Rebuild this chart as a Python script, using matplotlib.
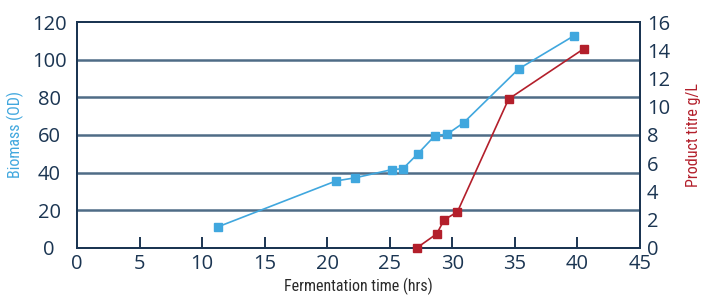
import matplotlib
matplotlib.use("Agg")
import matplotlib.pyplot as plt
from matplotlib import font_manager

# biomass (OD) readings, left axis
bio_time = [11.25, 20.7, 22.25, 25.15, 26.05, 27.25, 28.6, 29.6, 30.9, 35.3, 39.75]
bio_od = [11.2, 35.6, 37.3, 41.6, 42.1, 50.1, 59.6, 60.5, 66.5, 95.1, 112.8]

# product titre (g/L), right axis
prod_time = [27.15, 28.75, 29.35, 30.4, 34.5, 40.5]
prod_titre = [0.0, 1.0, 2.0, 2.55, 10.55, 14.1]

x_ticks = [0, 5, 10, 15, 20, 25, 30, 35, 40, 45]
left_ticks = [0, 20, 40, 60, 80, 100, 120]
right_ticks = [0, 2, 4, 6, 8, 10, 12, 14, 16]

NAVY = "#1b3552"
GRID = "#4f6c86"
BLUE = "#40a7de"
RED = "#b31f2b"

installed = {f.name for f in font_manager.fontManager.ttflist}
tick_font = ["Open Sans", "DejaVu Sans"]
label_font = [f for f in ["Roboto Condensed", "Open Sans Condensed", "DejaVu Sans Condensed",
                          "Liberation Sans Narrow", "Noto Sans Condensed"] if f in installed]
condensed = bool(label_font)
if not condensed:
    label_font = ["Roboto"]
lab_size = 11.5 if condensed else 9.5

fig = plt.figure(figsize=(7.02, 2.99), dpi=100)
ax = fig.add_axes([0.1097, 0.1706, 0.8020, 0.7558])
ax2 = ax.twinx()

ax.set_xlim(0, 45)
ax.set_ylim(0, 120)
ax2.set_ylim(0, 16)

for y in left_ticks[1:-1]:
    ax.axhline(y, color=GRID, lw=1.8, zorder=1)

ax.plot(bio_time, bio_od, color=BLUE, lw=1.2, marker="s", ms=5.3, zorder=3, clip_on=False)
ax2.plot(prod_time, prod_titre, color=RED, lw=1.2, marker="s", ms=5.3, zorder=3, clip_on=False)

ax.set_xticks(x_ticks)
ax.set_yticks(left_ticks)
ax2.set_yticks(right_ticks)

for a in (ax, ax2):
    for s in a.spines.values():
        s.set_color(NAVY)
        s.set_linewidth(1.4)

ax.tick_params(axis="x", direction="in", length=8, width=1.4, color=NAVY,
               labelcolor=NAVY, labelsize=14.5, pad=4)
ax.tick_params(axis="y", length=0, labelcolor=NAVY, labelsize=14.5, pad=20)
ax2.tick_params(axis="y", length=0, labelcolor=NAVY, labelsize=14.5, pad=5)

for lab in ax.get_xticklabels() + ax.get_yticklabels() + ax2.get_yticklabels():
    lab.set_family(tick_font)
for lab in ax.get_yticklabels():
    lab.set_horizontalalignment("center")

ax.set_xlabel("Fermentation time (hrs)", family=label_font, fontsize=lab_size,
              color="#2a2a2a", labelpad=3)
ax.set_ylabel("Biomass (OD)", family=label_font, fontsize=lab_size, color=BLUE)
ax2.set_ylabel("Product titre g/L", family=label_font, fontsize=lab_size, color=RED)
ax.yaxis.set_label_coords(-0.094, 0.5)
ax2.yaxis.set_label_coords(1.082, 0.5)

fig.savefig("out.png", dpi=100)
